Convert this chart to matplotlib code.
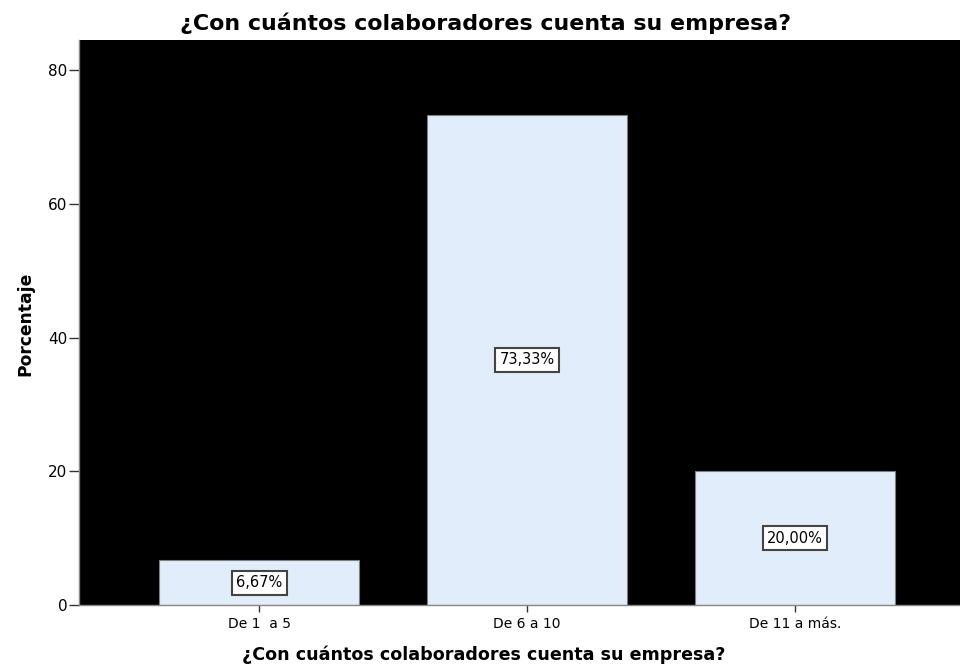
import matplotlib
matplotlib.use('Agg')
import matplotlib.pyplot as plt
import numpy as np

categorias = ['De 1  a 5', 'De 6 a 10', 'De 11 a más.']
porcentajes = [6.67, 73.33, 20.00]
etiquetas = ['6,67%', '73,33%', '20,00%']
titulo = '¿Con cuántos colaboradores cuenta su empresa?'

plt.rcParams['font.family'] = ['DejaVu Sans']

fig = plt.figure(figsize=(9.6, 6.68), dpi=100)
ax = fig.add_axes([79 / 960, 1 - 605 / 668, 881 / 960, 565 / 668])
ax.set_facecolor('black')

x = np.arange(len(categorias))
ax.bar(x, porcentajes, width=0.745, color='#e1edfa', edgecolor='#7f7f7f', linewidth=0.8, zorder=2)

for xi, v, lab in zip(x, porcentajes, etiquetas):
    ax.text(xi, v / 2, lab, ha='center', va='center', fontsize=10.5, color='black', zorder=3,
            bbox=dict(boxstyle='square,pad=0.3', facecolor='white', edgecolor='#444444', linewidth=1.5))

ax.set_xlim(-0.672, 2.616)
ax.set_ylim(0, 84.5)
ax.set_yticks([0, 20, 40, 60, 80])
ax.set_xticks(x)
ax.set_xticklabels(categorias)
ax.tick_params(axis='y', labelsize=11, colors='#333333', length=7.5, width=1, pad=1)
ax.tick_params(axis='x', labelsize=10, colors='#333333', length=5, width=1, pad=4)
ax.tick_params(axis='both', labelcolor='black')

for side in ['top', 'right']:
    ax.spines[side].set_visible(False)
for side in ['left', 'bottom']:
    ax.spines[side].set_color('#888888')
    ax.spines[side].set_linewidth(1)

fig.text(25 / 960, 1 - 324 / 668, 'Porcentaje', rotation=90, ha='center', va='center',
         fontsize=12.3, fontweight='bold')
fig.text(484 / 960, 1 - 655 / 668, titulo, ha='center', va='center',
         fontsize=12.6, fontweight='bold')
fig.text(486 / 960, 1 - 23 / 668, titulo, ha='center', va='center',
         fontsize=15.9, fontweight='bold')

fig.savefig('out.png', dpi=100, facecolor='white')
